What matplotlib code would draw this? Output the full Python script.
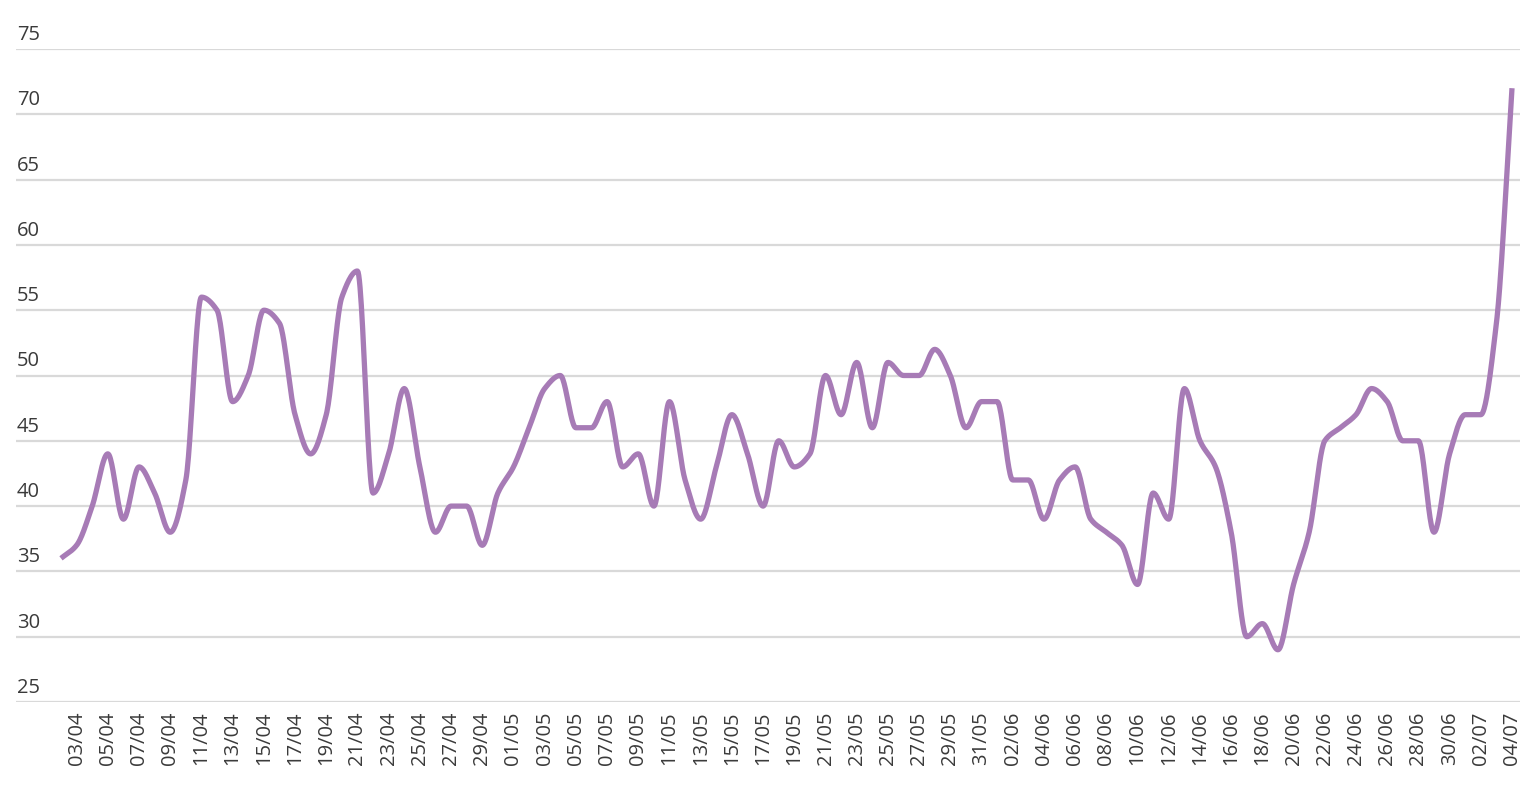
import numpy as np
import matplotlib
matplotlib.use('Agg')
import matplotlib.pyplot as plt
import matplotlib.transforms as mtransforms
from datetime import date, timedelta

# daily values, 02/04 .. 04/07
start = date(2020, 4, 2)
values = [36, 37, 40, 44, 39, 43, 41, 38, 42, 56,
          55, 48, 50, 55, 54, 47, 44, 47, 56, 58,
          41, 44, 49, 43, 38, 40, 40, 37, 41, 43,
          46, 49, 50, 46, 46, 48, 43, 44, 40, 48,
          42, 39, 43, 47, 44, 40, 45, 43, 44, 50,
          47, 51, 46, 51, 50, 50, 52, 50, 46, 48,
          48, 42, 42, 39, 42, 43, 39, 38, 37, 34,
          41, 39, 49, 45, 43, 38, 30, 31, 29, 34,
          38, 45, 46, 47, 49, 48, 45, 45, 38, 44,
          47, 47, 54, 72]
dates = [start + timedelta(days=i) for i in range(len(values))]
labels = [d.strftime('%d/%m') for d in dates]
yticks = [25, 30, 35, 40, 45, 50, 55, 60, 65, 70, 75]

LINE = '#a77bb6'
GRID = '#d9d9d9'
TEXT = '#3a3a3a'


def monotone(x, y, n=24):
    # monotone cubic (Fritsch-Carlson / pchip) through the points
    x = np.asarray(x, float)
    y = np.asarray(y, float)
    h = np.diff(x)
    d = np.diff(y) / h
    m = np.zeros_like(y)
    m[0], m[-1] = d[0], d[-1]
    for k in range(1, len(y) - 1):
        if d[k - 1] * d[k] <= 0:
            m[k] = 0
        else:
            w1 = 2 * h[k] + h[k - 1]
            w2 = h[k] + 2 * h[k - 1]
            m[k] = (w1 + w2) / (w1 / d[k - 1] + w2 / d[k])
    xs, ys = [], []
    for k in range(len(h)):
        t = np.linspace(0, 1, n, endpoint=False)
        h00 = 2 * t**3 - 3 * t**2 + 1
        h10 = t**3 - 2 * t**2 + t
        h01 = -2 * t**3 + 3 * t**2
        h11 = t**3 - t**2
        xs.append(x[k] + t * h[k])
        ys.append(h00 * y[k] + h10 * h[k] * m[k] + h01 * y[k + 1] + h11 * h[k] * m[k + 1])
    xs.append([x[-1]])
    ys.append([y[-1]])
    return np.concatenate(xs), np.concatenate(ys)


plt.rcParams['font.family'] = ['Open Sans', 'DejaVu Sans']

W, H = 1535, 794
fig = plt.figure(figsize=(W / 100, H / 100), dpi=100)
ax = fig.add_axes([16 / W, 1 - 702 / H, (1520 - 16) / W, (702 - 49) / H])

xi = np.arange(len(values))
sx, sy = monotone(xi, values)
ax.plot(sx, sy, color=LINE, lw=3.8, solid_capstyle='butt', zorder=3)

ax.set_ylim(25, 75)
ax.set_xlim(-(61 - 16) / 15.6, len(values) - 1 + (1520 - 1512) / 15.6)

for v in yticks:
    ax.axhline(v, color=GRID, lw=1.6, zorder=1)
    off = mtransforms.offset_copy(ax.get_yaxis_transform(), fig=fig, x=1, y=4, units='dots')
    ax.text(0, v, str(v), transform=off, ha='left', va='bottom',
            fontsize=14.5, color=TEXT)

ax.set_yticks([])
ax.set_xticks(xi[1::2])
ax.set_xticklabels(labels[1::2], rotation=90, fontsize=14.5, color=TEXT)
ax.tick_params(axis='x', length=0, pad=7)
for s in ax.spines.values():
    s.set_visible(False)

fig.savefig('out.png', dpi=100)
